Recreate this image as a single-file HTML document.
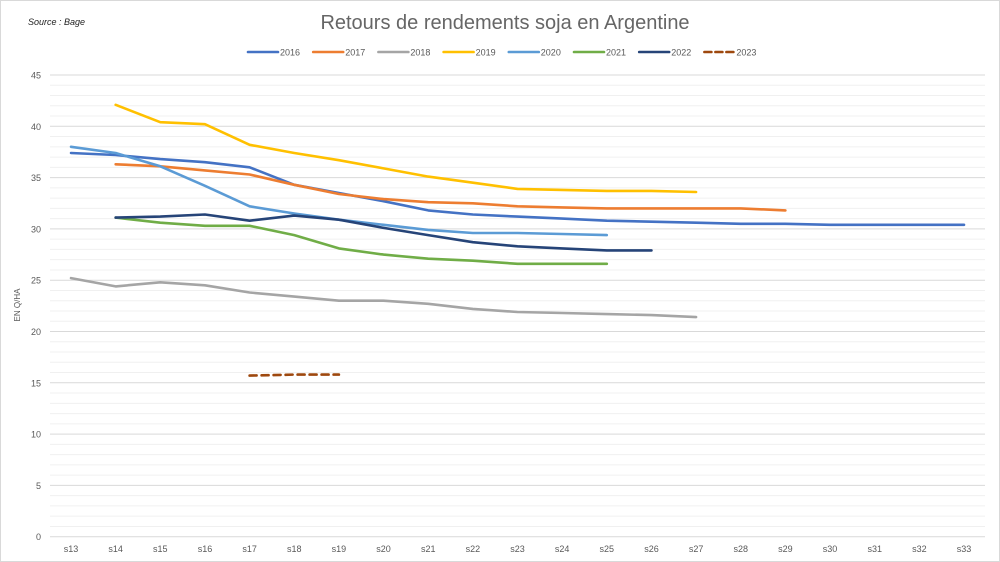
<!DOCTYPE html>
<html><head><meta charset="utf-8"><style>
html,body{margin:0;padding:0;background:#fff;}
svg{display:block;font-family:"Liberation Sans",sans-serif;}
</style></head><body>
<svg id="c" width="1000" height="562" viewBox="0 0 1000 562">
<rect x="0.5" y="0.5" width="999" height="561" fill="#fff" stroke="#d9d9d9"/>
<text x="28" y="25" font-size="9" font-style="italic" fill="#222">Source : Bage</text>
<text x="505" y="29" font-size="20" fill="#666" text-anchor="middle">Retours de rendements soja en Argentine</text>
<g id="grid"></g>
<g id="lines"></g>
<g id="leg" font-size="9" fill="#595959"></g>
<text transform="translate(20,305) rotate(-90)" font-size="8" fill="#595959" text-anchor="middle">EN Q/HA</text>
</svg>
<script>
var NS="http://www.w3.org/2000/svg";
function el(t,a,p,txt){var e=document.createElementNS(NS,t);for(var k in a)e.setAttribute(k,a[k]);if(txt)e.textContent=txt;p.appendChild(e);return e;}
var y0=536.7,k=10.26,x0=71,dx=44.65;
function Y(v){return y0-v*k;}function X(i){return x0+i*dx;}
var g=document.getElementById('grid');
for(var v=0;v<=45;v++){el('line',{x1:50,x2:985,y1:Y(v),y2:Y(v),stroke:v%5==0?'#d9d9d9':'#f0f0f0','stroke-width':1},g);
 if(v%5==0)el('text',{x:41,y:Y(v)+3.5,'font-size':9,fill:'#595959','text-anchor':'end'},g,String(v));}
for(var i=0;i<=20;i++)el('text',{x:X(i),y:552,'font-size':9,fill:'#595959','text-anchor':'middle'},g,'s'+(13+i));
var S=[
['2016','#4472c4',0,[37.4,37.2,36.8,36.5,36.0,34.3,33.5,32.7,31.8,31.4,31.2,31.0,30.8,30.7,30.6,30.5,30.5,30.4,30.4,30.4,30.4]],
['2017','#ed7d31',1,[36.3,36.1,35.7,35.3,34.3,33.4,32.9,32.6,32.5,32.2,32.1,32.0,32.0,32.0,32.0,31.8]],
['2018','#a5a5a5',0,[25.2,24.4,24.8,24.5,23.8,23.4,23.0,23.0,22.7,22.2,21.9,21.8,21.7,21.6,21.4]],
['2019','#ffc000',1,[42.1,40.4,40.2,38.2,37.4,36.7,35.9,35.1,34.5,33.9,33.8,33.7,33.7,33.6]],
['2020','#5b9bd5',0,[38.0,37.4,36.1,34.2,32.2,31.5,30.9,30.4,29.9,29.6,29.6,29.5,29.4]],
['2021','#70ad47',1,[31.1,30.6,30.3,30.3,29.4,28.1,27.5,27.1,26.9,26.6,26.6,26.6]],
['2022','#264478',1,[31.1,31.2,31.4,30.8,31.3,30.9,30.1,29.4,28.7,28.3,28.1,27.9,27.9]],
['2023','#9e480e',4,[15.7,15.8,15.8]]];
var L=document.getElementById('lines'),lg=document.getElementById('leg');
S.forEach(function(s,j){var p=s[3].map(function(v,i){return X(i+s[2])+','+Y(v).toFixed(1);}).join(' ');
 var a={points:p,fill:'none',stroke:s[1],'stroke-width':2.6,'stroke-linejoin':'round','stroke-linecap':'round'};
 if(s[0]=='2023')a['stroke-dasharray']='7 5';
 el('polyline',a,L);
 var lx=248+j*65.2;
 var b={x1:lx,x2:lx+30,y1:52,y2:52,stroke:s[1],'stroke-width':2.6,'stroke-linecap':'round'};
 if(s[0]=='2023')b['stroke-dasharray']='7 4';
 el('line',b,lg);
 el('text',{x:lx+32,y:55.5},lg,s[0]);});
</script>
</body></html>
